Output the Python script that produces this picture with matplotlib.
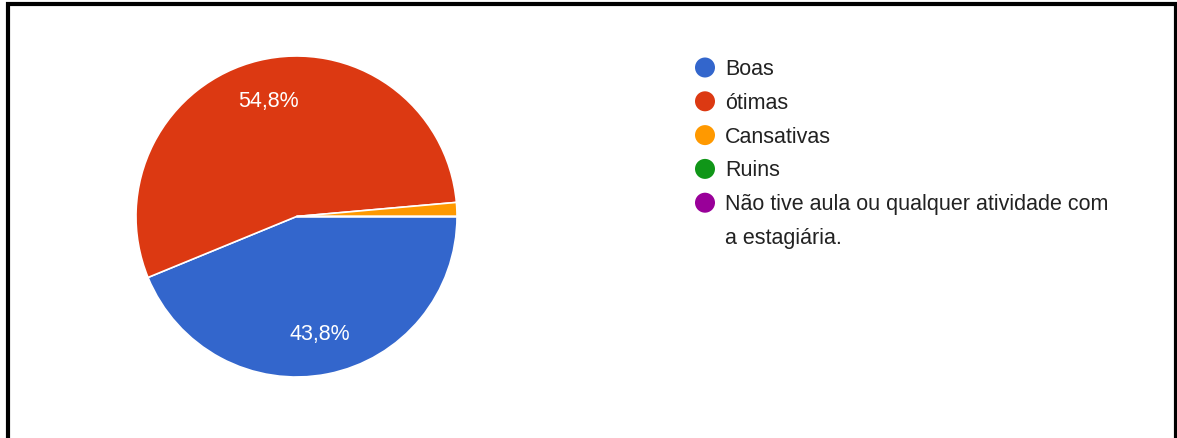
import matplotlib
matplotlib.use("Agg")
import matplotlib.pyplot as plt

plt.rcParams["font.family"] = ["Liberation Sans", "DejaVu Sans"]

# survey answers and their share of responses (%)
categories = ["Boas", "ótimas", "Cansativas", "Ruins",
              "Não tive aula ou qualquer atividade com\na estagiária."]
shares = [43.8, 54.8, 1.4, 0.0, 0.0]
colors = ["#3366cc", "#dc3912", "#ff9900", "#109618", "#990099"]

W, H = 1177, 439
fig = plt.figure(figsize=(W / 100, H / 100), dpi=100)
fig.patch.set_facecolor("white")

# pie axes: centre (296, 217) px, radius 160 px
cx, cy, r = 296.5, 217.5, 160.5
ax = fig.add_axes([(cx - r) / W, (H - cy - r) / H, 2 * r / W, 2 * r / H])

def pct_label(p):
    return f"{p:.1f}%".replace(".", ",") if p >= 5 else ""

wedges, texts, autotexts = ax.pie(
    shares, colors=colors, startangle=0, counterclock=False,
    autopct=pct_label, pctdistance=0.745, radius=1,
    wedgeprops=dict(edgecolor="white", linewidth=1.2),
    textprops=dict(color="white", fontsize=15.5))
ax.set_xlim(-1, 1)
ax.set_ylim(-1, 1)
ax.axis("off")

# overlay in pixel units for the legend and the frame
ov = fig.add_axes([0, 0, 1, 1], zorder=5)
ov.set_xlim(0, W)
ov.set_ylim(H, 0)
ov.axis("off")

row0, step = 68.5, 33.8
row = 0
for name, c in zip(categories, colors):
    y = row0 + row * step
    ov.scatter([705], [y], s=(20 * 0.72) ** 2, color=c, edgecolors="none")
    for line in name.split("\n"):
        ov.text(725, row0 + row * step + 6.5, line, fontsize=15.5,
                color="#222222", va="baseline", ha="left")
        row += 1

# black frame (open at the bottom)
ov.plot([8, 8, 1175.5, 1175.5], [H + 5, 5, 5, H + 5], color="black", lw=3,
        solid_joinstyle="miter", clip_on=False)

fig.savefig("out.png", dpi=100)
